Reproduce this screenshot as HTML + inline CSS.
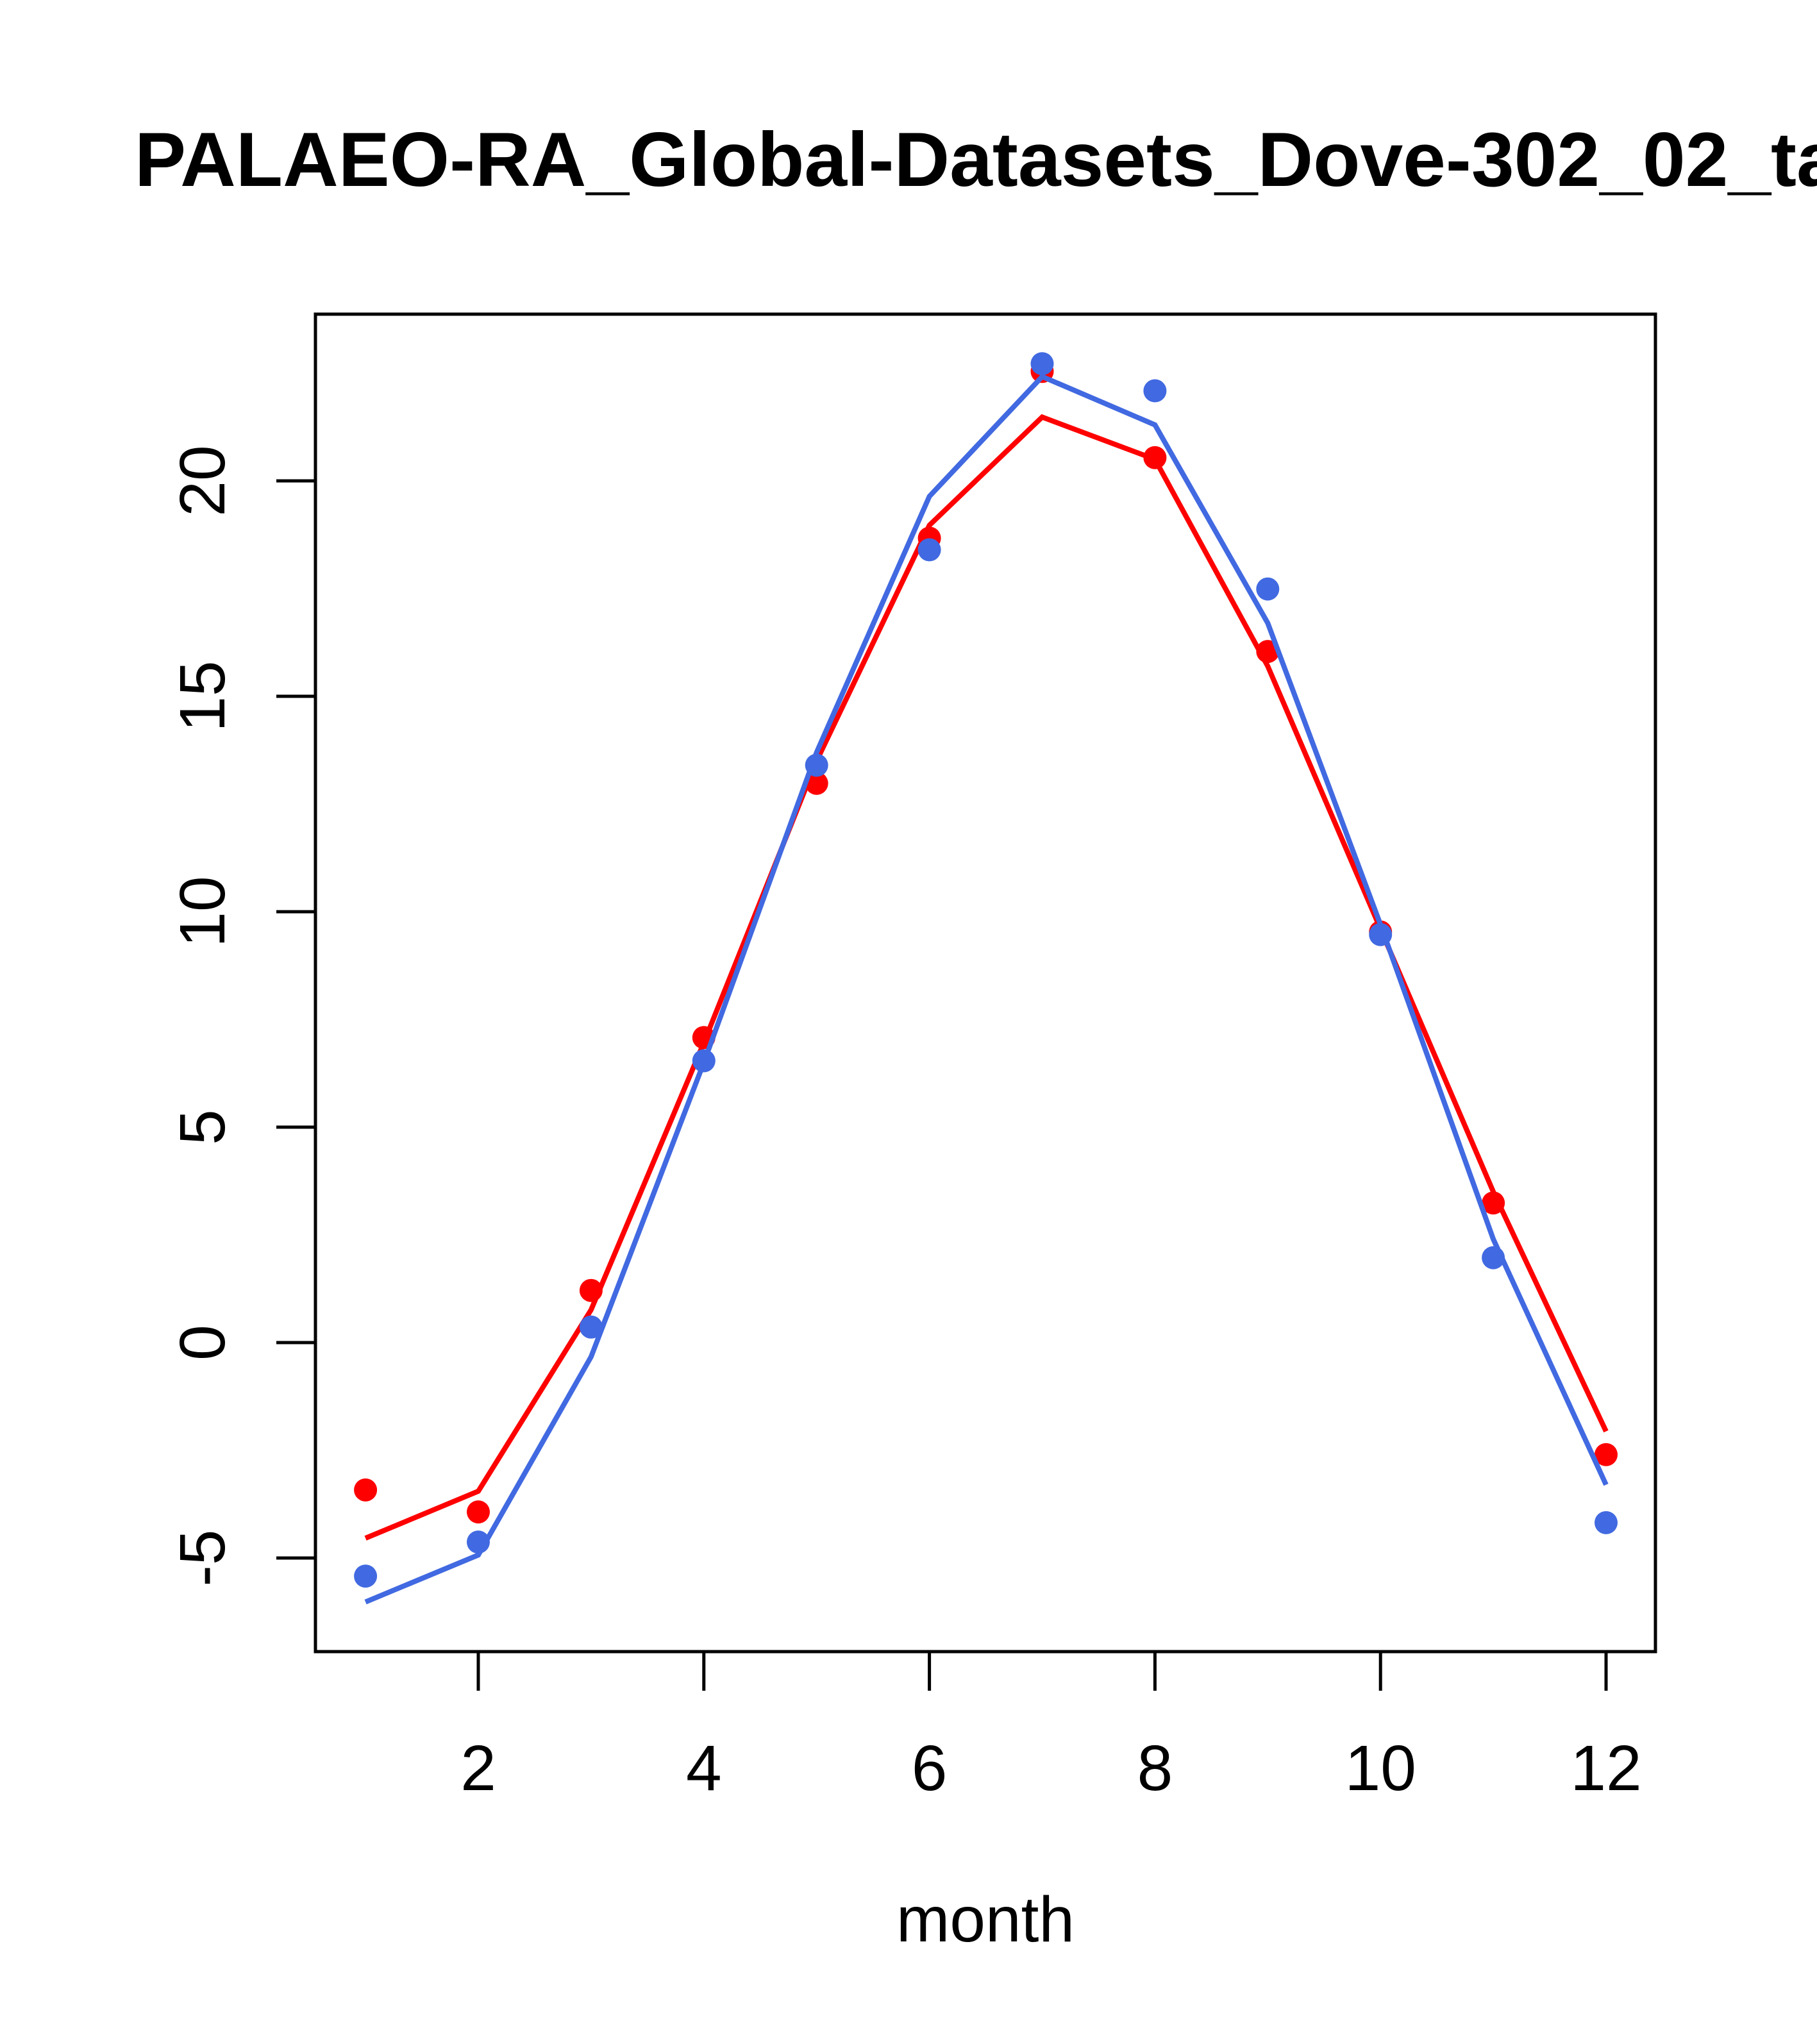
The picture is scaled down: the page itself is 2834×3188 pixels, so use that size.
<!DOCTYPE html>
<html><head><meta charset="utf-8"><style>
html,body{margin:0;padding:0;background:#fff;}
svg{display:block;font-family:"Liberation Sans",Arial,sans-serif;}
</style></head><body>
<svg id="chart" width="2834" height="3188" viewBox="0 0 2834 3188" xmlns="http://www.w3.org/2000/svg">
<text x="210" y="290" font-size="120" font-weight="bold">PALAEO-RA_Global-Datasets_Dove-302_02_ta</text>
<rect x="492" y="490" width="2090" height="2086" fill="none" stroke="#000" stroke-width="5"/>
<g id="xaxis"></g>
<g id="yaxis"></g>
<g id="series"></g>
<text x="1537" y="3028" font-size="100" text-anchor="middle">month</text>
</svg>
<script>
const months = [1,2,3,4,5,6,7,8,9,10,11,12];
const redPoints = [-3.42,-3.93,1.21,7.08,12.98,18.67,22.54,20.54,16.04,9.53,3.24,-2.6];
const redLine = [-4.54,-3.45,0.76,6.96,13.5,18.97,21.48,20.5,15.7,9.6,3.5,-2.06];
const bluePoints = [-5.42,-4.63,0.36,6.54,13.4,18.4,22.72,22.09,17.49,9.47,1.97,-4.18];
const blueLine = [-6.02,-4.93,-0.33,6.5,13.7,19.64,22.42,21.3,16.7,9.7,2.4,-3.3];
const xTicks = [2,4,6,8,10,12];
const yTicks = [-5,0,5,10,15,20];

const NS = "http://www.w3.org/2000/svg";
function X(v){ return 746 + (v-2)*(2505-746)/10; }
function Y(v){ return 2094 - v*(2094-750)/20; }
function mk(tag, attrs, parent){
  const e = document.createElementNS(NS, tag);
  for (const k in attrs) e.setAttribute(k, attrs[k]);
  parent.appendChild(e); return e;
}
const xa = document.getElementById('xaxis');
const ya = document.getElementById('yaxis');
const sg = document.getElementById('series');
xTicks.forEach(t=>{
  const l = mk('line',{x1:X(t),x2:X(t),y1:2576,y2:2637,stroke:'#000','stroke-width':5},xa);
  
  
  const tx = mk('text',{x:X(t),y:2792,'font-size':100,'text-anchor':'middle'},xa);
  tx.textContent = t;
  
  
});
yTicks.forEach(t=>{
  const l = mk('line',{x1:431,x2:492,y1:Y(t),y2:Y(t),stroke:'#000','stroke-width':5},ya);
  
  
  const tx = mk('text',{x:0,y:0,'font-size':100,'text-anchor':'middle',transform:`translate(350,${Y(t)}) rotate(-90)`},ya);
  tx.textContent = t;
  
  
});
function drawLine(vals,color,name){
  const p = mk('polyline',{points:months.map((m,i)=>X(m)+','+Y(vals[i])).join(' '),fill:'none',stroke:color,'stroke-width':8},sg);
  
  
}
function drawPts(vals,color,name){
  months.forEach((m,i)=>{
    const c = mk('circle',{cx:X(m),cy:Y(vals[i]),r:18,fill:color},sg);
    
    
  });
}
drawLine(redLine,'#ff0000','red-line');
drawPts(redPoints,'#ff0000','red-point');
drawLine(blueLine,'#4169e1','blue-line');
drawPts(bluePoints,'#4169e1','blue-point');
</script>
</body></html>
